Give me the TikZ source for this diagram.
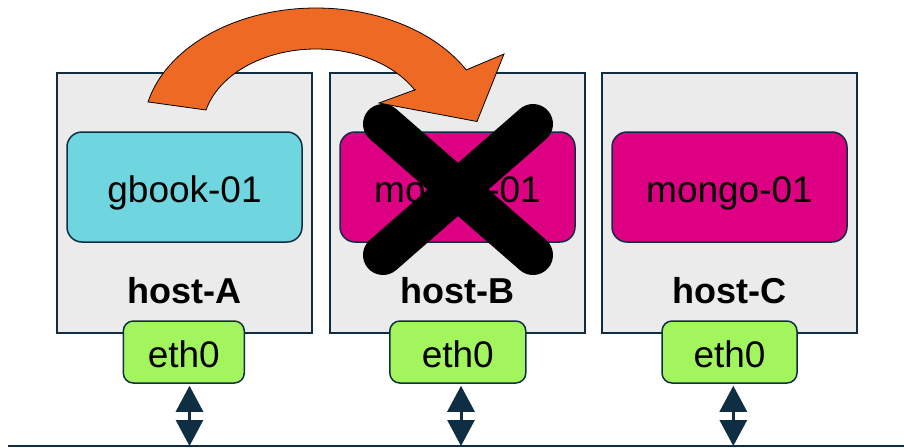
\documentclass[tikz,border=0pt]{standalone}
\usepackage{fontspec}
\setmainfont{Liberation Sans}
\usetikzlibrary{arrows.meta}

\definecolor{navy}{HTML}{0F2E43}
\definecolor{hostgrey}{HTML}{EBEBEB}
\definecolor{vmcyan}{HTML}{6FD6E0}
\definecolor{vmmagenta}{HTML}{DE0083}
\definecolor{nicgreen}{HTML}{A3F55E}
\definecolor{moveorange}{HTML}{EE6A24}

\begin{document}
\begin{tikzpicture}[x=1pt,y=-1pt,
  host/.style={draw=navy, line width=2pt, fill=hostgrey,
    minimum width=255pt, minimum height=260pt, inner sep=0pt},
  vm/.style={draw=navy, line width=1.5pt, rounded corners=15pt,
    minimum width=235pt, minimum height=110pt, inner sep=0pt,
    text height=37pt, text depth=7pt,
    font=\fontsize{37}{40}\selectfont},
  nic/.style={draw=navy, line width=1.5pt, fill=nicgreen, rounded corners=10pt,
    minimum height=62pt, inner sep=0pt, text height=37pt, text depth=7pt,
    font=\fontsize{37}{40}\selectfont},
  hostlabel/.style={anchor=base, inner sep=0pt,
    font=\fontsize{36}{40}\selectfont\bfseries},
  link/.style={draw=navy, fill=navy, line width=3pt, shorten <=2pt,
    {Triangle[length=26pt,width=27pt]}-{Triangle[length=26pt,width=27pt]}},
  bus/.style={draw=navy, line width=2pt}]

\useasboundingbox (0,0) rectangle (904,447);

% hosts
\node[host] (hostA) at (184.5,203) {};
\node[host] (hostB) at (457.5,203) {};
\node[host] (hostC) at (729.5,203) {};

% guests
\node[vm, fill=vmcyan]    (gbook)  at (184.5,187) {gbook-01};
\node[vm, fill=vmmagenta] (mongoB) at (457.5,187) {mongo-01};
\node[vm, fill=vmmagenta] (mongoC) at (729.5,187) {mongo-01};

% host names
\node[hostlabel] (labA) at (184.5,303.3) {host-A};
\node[hostlabel] (labB) at (457.5,303.3) {host-B};
\node[hostlabel] (labC) at (729.5,303.3) {host-C};

% network interfaces
\node[nic, minimum width=121pt] (ethA) at (183.8,352) {eth0};
\node[nic, minimum width=136pt] (ethB) at (457.8,352) {eth0};
\node[nic, minimum width=135pt] (ethC) at (729.5,352) {eth0};

% shared network segment
\coordinate (busL) at (8,446);
\coordinate (busR) at (904,446);
\coordinate (busA) at (189.5,446);
\coordinate (busB) at (461,446);
\coordinate (busC) at (733.3,446);
\draw[bus] (busL) -- (busR);

\draw[link] (ethA.south -| busA) -- (busA);
\draw[link] (ethB.south -| busB) -- (busB);
\draw[link] (ethC.south -| busC) -- (busC);

% failed guest
\draw[black, line width=40pt, line cap=round] (383,124) -- (533,255);
\draw[black, line width=40pt, line cap=round] (533,124) -- (383,255);

% migration arrow
\filldraw[fill=moveorange, draw=black, line width=0.8pt, line join=miter]
  plot[domain=193.3:330.5, samples=80] ({316+172.6*cos(\x)},{130+122*sin(\x)})
  -- (504,54) -- (477,121.5) -- (379,103) -- (415,89.8)
  -- plot[domain=330.5:194.3, samples=80] ({316+113.5*cos(\x)},{130+81*sin(\x)})
  -- cycle;

\end{tikzpicture}
\end{document}
